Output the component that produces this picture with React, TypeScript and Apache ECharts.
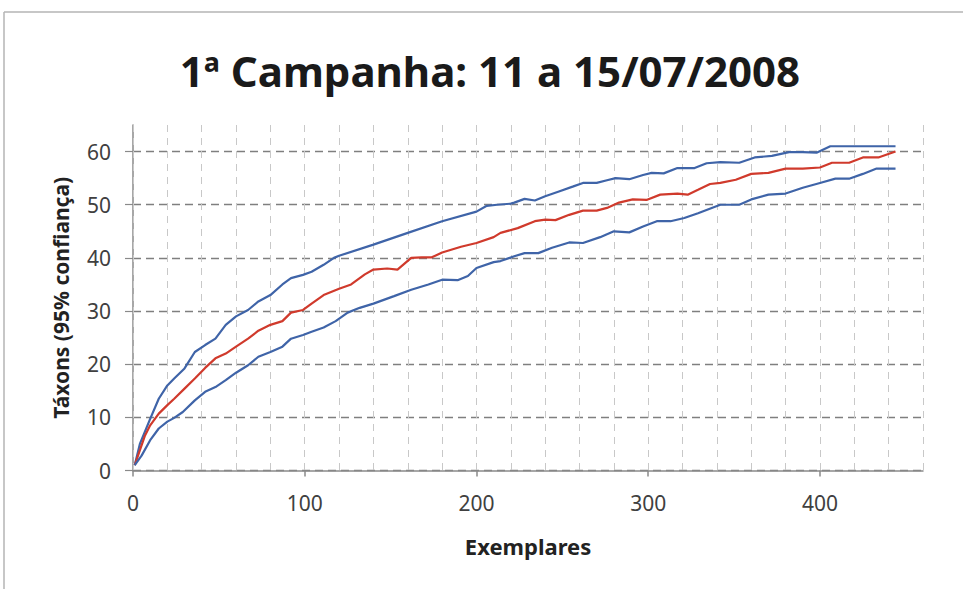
import React, { useEffect, useRef } from "react";
import * as echarts from "echarts";

const title = "1ª Campanha: 11 a 15/07/2008";
const xName = "Exemplares";
const yName = "Táxons (95% confiança)";
const xLabels = [0, 100, 200, 300, 400];

const upperX = [1, 4, 10, 15, 20, 24, 30, 36, 42, 48, 54, 60, 67, 73, 80, 87, 92, 99, 104, 111, 117, 120, 140, 160, 180, 200, 206, 212, 220, 222, 228, 234, 240, 248, 256, 262, 270, 276, 281, 289, 297, 302, 309, 317, 327, 334, 342, 353, 362, 372, 382, 390, 398, 406, 419, 444];
const upperY = [1, 5, 9.7, 13.5, 16, 17.3, 19.2, 22.3, 23.6, 24.8, 27.4, 29, 30.2, 31.8, 33, 35, 36.2, 36.8, 37.4, 38.7, 40, 40.4, 42.5, 44.7, 46.9, 48.7, 49.8, 50, 50.2, 50.4, 51.1, 50.8, 51.6, 52.5, 53.4, 54.1, 54.1, 54.6, 55, 54.8, 55.6, 56, 55.9, 56.9, 56.9, 57.8, 58, 57.9, 58.9, 59.2, 59.9, 59.9, 59.8, 61, 61, 61];

const meanX = [1, 7, 10, 15, 20, 24, 30, 36, 42, 48, 54, 60, 67, 73, 80, 87, 92, 99, 104, 111, 120, 127, 135, 140, 148, 154, 162, 168, 174, 180, 191, 200, 210, 214, 224, 234, 240, 246, 254, 262, 270, 276, 283, 291, 299, 307, 317, 323, 329, 336, 342, 351, 360, 370, 380, 390, 400, 407, 417, 425, 434, 444];
const meanY = [1, 6.6, 8.5, 10.7, 12.3, 13.5, 15.4, 17.3, 19.3, 21.1, 22, 23.3, 24.8, 26.3, 27.4, 28.1, 29.7, 30.2, 31.4, 33, 34.2, 35, 36.9, 37.8, 38, 37.8, 40, 40.1, 40.1, 41, 42.1, 42.8, 43.9, 44.7, 45.6, 46.9, 47.2, 47.1, 48.1, 48.9, 48.9, 49.4, 50.4, 51, 50.9, 51.9, 52.1, 51.9, 52.8, 53.9, 54.1, 54.7, 55.8, 56, 56.8, 56.8, 57, 57.9, 57.9, 58.9, 58.9, 60];

const lowerX = [1, 5, 10, 15, 20, 24, 29, 36, 42, 48, 54, 60, 67, 73, 80, 87, 92, 99, 104, 111, 118, 125, 132, 140, 152, 162, 172, 180, 189, 195, 200, 210, 214, 222, 228, 236, 244, 254, 262, 272, 280, 289, 297, 305, 313, 321, 329, 337, 342, 353, 360, 370, 380, 390, 400, 409, 417, 425, 433, 444];
const lowerY = [1, 2.8, 5.7, 7.9, 9.2, 9.9, 11, 13.2, 14.8, 15.7, 17, 18.4, 19.8, 21.4, 22.3, 23.3, 24.8, 25.5, 26.1, 26.9, 28.1, 29.7, 30.6, 31.4, 32.8, 34, 35, 35.9, 35.8, 36.6, 38.1, 39.2, 39.4, 40.3, 40.9, 40.9, 41.9, 42.9, 42.8, 43.9, 45, 44.8, 45.9, 46.9, 46.9, 47.5, 48.4, 49.4, 50, 50, 51, 51.9, 52.1, 53.2, 54.1, 54.9, 54.9, 55.8, 56.8, 56.8];

const zip = (xs: number[], ys: number[]) => xs.map((x, i) => [x, ys[i]]);

const FONT = "'Noto Sans', sans-serif";
const BLUE = "#3f64a8";
const RED = "#d03a2c";

export default function App() {
  const ref = useRef<HTMLDivElement>(null);
  useEffect(() => {
    if (!ref.current) return;
    const chart = echarts.init(ref.current, null, { renderer: "svg" });
    chart.setOption({
      animation: false,
      backgroundColor: "#ffffff",
      graphic: [
        { type: "line", shape: { x1: 4, y1: 12, x2: 963, y2: 12 }, style: { stroke: "#b4b4b4", lineWidth: 1.5 } },
        { type: "line", shape: { x1: 4, y1: 12, x2: 4, y2: 589 }, style: { stroke: "#b4b4b4", lineWidth: 1.5 } },
        {
          type: "text",
          x: 490,
          y: 70,
          style: {
            text: title,
            align: "center",
            verticalAlign: "middle",
            font: `bold 42px ${FONT}`,
            fill: "#1a1a1a",
          },
        },
      ],
      grid: { left: 133, right: 40, top: 125, bottom: 118.5, containLabel: false },
      xAxis: [
        {
          type: "value",
          min: 0,
          max: 460,
          interval: 20,
          name: xName,
          nameLocation: "middle",
          nameGap: 64,
          nameTextStyle: { fontFamily: FONT, fontSize: 22, fontWeight: "bold", color: "#222" },
          axisLine: { show: true, lineStyle: { color: "#8a8a8a", width: 1.5 } },
          axisTick: { show: true, length: 6, customValues: xLabels, lineStyle: { color: "#8a8a8a", width: 1.5 } },
          axisLabel: {
            customValues: xLabels,
            margin: 22,
            fontFamily: FONT,
            fontSize: 21,
            color: "#404040",
          },
          splitLine: { show: false },
          z: 3,
        },
        {
          type: "value",
          min: 0,
          max: 460,
          interval: 20,
          position: "bottom",
          axisLine: { show: false },
          axisTick: { show: false },
          axisLabel: { show: false },
          splitLine: { show: true, lineStyle: { color: "#c8c8c8", type: [7, 6], width: 1 } },
          z: 1,
        },
      ],
      yAxis: {
        type: "value",
        min: 0,
        max: 65,
        interval: 10,
        name: yName,
        nameLocation: "middle",
        nameGap: 62,
        nameTextStyle: { fontFamily: FONT, fontSize: 21, fontWeight: "bold", color: "#222" },
        axisLine: { show: true, lineStyle: { color: "#8a8a8a", width: 1.5 } },
        axisTick: { show: true, length: 8, lineStyle: { color: "#8a8a8a", width: 1.2 } },
        axisLabel: { showMaxLabel: false, margin: 22, fontFamily: FONT, fontSize: 21, color: "#404040" },
        splitLine: { show: true, showMaxLine: false, lineStyle: { color: "#7f7f7f", type: [8, 5], width: 1.3 } },
      },
      series: [
        { type: "line", xAxisIndex: 0, data: zip(upperX, upperY), showSymbol: false, lineStyle: { color: BLUE, width: 2.2 }, itemStyle: { color: BLUE } },
        { type: "line", xAxisIndex: 0, data: zip(meanX, meanY), showSymbol: false, lineStyle: { color: RED, width: 2.2 }, itemStyle: { color: RED } },
        { type: "line", xAxisIndex: 0, data: zip(lowerX, lowerY), showSymbol: false, lineStyle: { color: BLUE, width: 2.2 }, itemStyle: { color: BLUE } },
      ],
    });
    return () => chart.dispose();
  }, []);
  return (
    <div
      ref={ref}
      style={{ position: "fixed", left: 0, top: 0, width: 963, height: 589, background: "#fff" }}
    />
  );
}
